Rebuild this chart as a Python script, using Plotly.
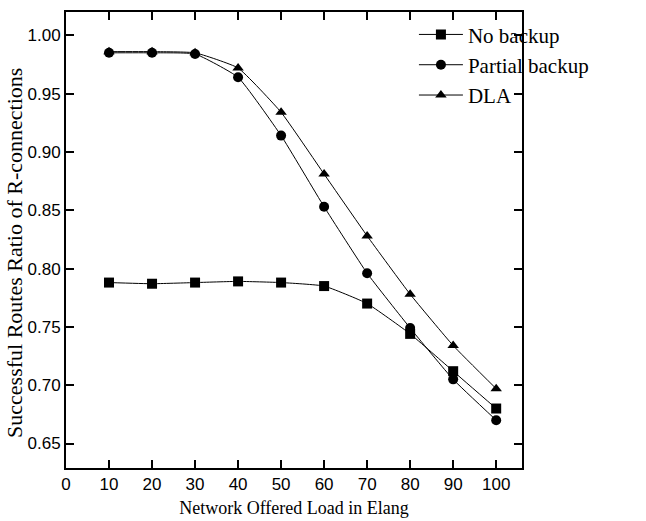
import plotly.graph_objects as go

load = [10, 20, 30, 40, 50, 60, 70, 80, 90, 100]
no_backup = [0.788, 0.787, 0.788, 0.789, 0.788, 0.785, 0.770, 0.744, 0.712, 0.680]
partial_backup = [0.985, 0.985, 0.984, 0.964, 0.914, 0.853, 0.796, 0.749, 0.705, 0.670]
dla = [0.986, 0.986, 0.985, 0.972, 0.934, 0.881, 0.828, 0.778, 0.734, 0.697]

x_ticks = [0, 10, 20, 30, 40, 50, 60, 70, 80, 90, 100]
y_ticks = [0.65, 0.70, 0.75, 0.80, 0.85, 0.90, 0.95, 1.00]

fig = go.Figure()
series = [("No backup", no_backup, "square"),
          ("Partial backup", partial_backup, "circle"),
          ("DLA", dla, "triangle-up")]
for name, vals, sym in series:
    fig.add_trace(go.Scatter(
        x=load, y=vals, name=name, mode="lines+markers",
        line=dict(color="black", width=1, shape="spline", smoothing=0.4),
        marker=dict(symbol=sym, size=10, color="black"),
    ))

axis_common = dict(
    showline=True, linecolor="black", linewidth=2, mirror="ticks",
    ticks="inside", ticklen=8, tickwidth=1.5, tickcolor="black",
    showgrid=False, zeroline=False, automargin=False,
    tickfont=dict(family="Liberation Sans, Arial", size=17, color="black"),
)

serif = "Liberation Serif, Times New Roman"
fig.update_layout(
    width=646, height=521,
    margin=dict(l=66, r=124, t=12, b=53),
    plot_bgcolor="white", paper_bgcolor="white",
    showlegend=True,
    legend=dict(x=0.763, y=0.995, xanchor="left", yanchor="top",
                bgcolor="rgba(0,0,0,0)",
                font=dict(family=serif, size=21, color="black"),
                itemwidth=44, tracegroupgap=0),
    xaxis=dict(range=[0, 106], tickvals=x_ticks, **axis_common,
               title=dict(text="Network Offered Load in Elang", standoff=8,
                          font=dict(family=serif, size=18, color="black"))),
    yaxis=dict(range=[0.629, 1.02], tickvals=y_ticks, tickformat=".2f", **axis_common),
    annotations=[dict(
        text="Successful Routes Ratio of R-connections",
        xref="paper", yref="paper", x=-0.112, y=0.4715,
        xanchor="center", yanchor="middle", textangle=-90, showarrow=False,
        font=dict(family=serif, size=22, color="black"),
    )],
)

fig.write_html("out.html", config={"displayModeBar": False},
               post_script="document.body.style.margin='0';")
